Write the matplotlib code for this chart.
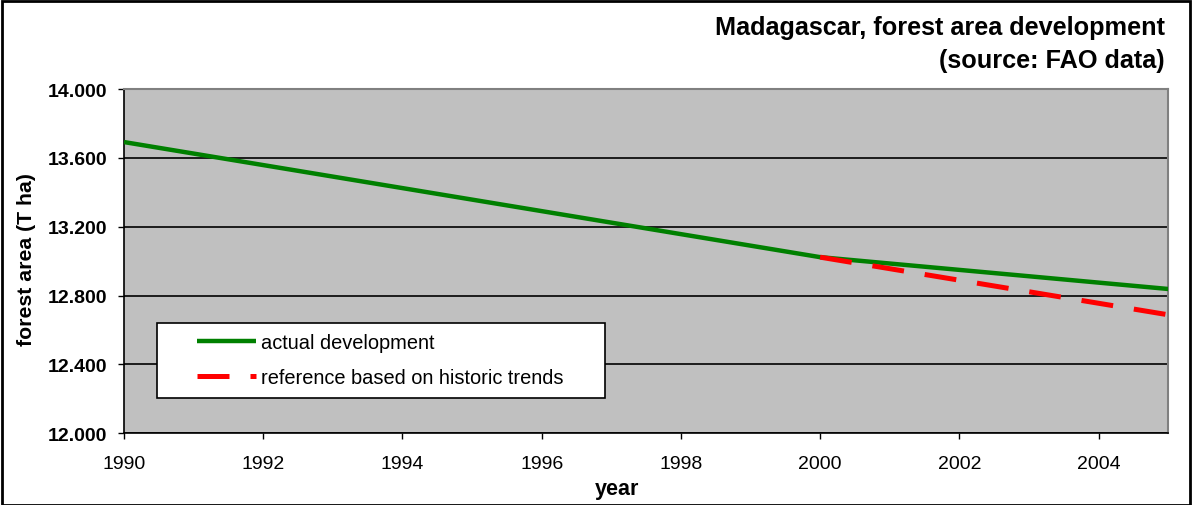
import matplotlib.pyplot as plt
from matplotlib.patches import Rectangle
from matplotlib.ticker import FuncFormatter

plt.rcParams['font.family'] = ['Liberation Sans', 'DejaVu Sans']

# FAO forest area, thousand ha
years_actual = [1990, 2000, 2005]
area_actual = [13692, 13023, 12838]

# reference: historic trend continued after 2000
years_ref = [2000, 2005]
area_ref = [13023, 12688]

y_ticks = [12000, 12400, 12800, 13200, 13600, 14000]
x_ticks = [1990, 1992, 1994, 1996, 1998, 2000, 2002, 2004]

fig = plt.figure(figsize=(11.92, 5.06), dpi=100)
ax = fig.add_axes([0.104, 0.142, 0.876, 0.680])

ax.set_facecolor('#c0c0c0')
ax.plot(years_actual, area_actual, color='#008000', lw=3.2,
        solid_capstyle='butt', label='actual development', zorder=3)
ax.plot(years_ref, area_ref, color='#ff0000', lw=3.6,
        dashes=(6.4, 4.2), dash_capstyle='butt',
        label='reference based on historic trends', zorder=4)

ax.set_xlim(1990, 2005)
ax.set_ylim(12000, 14000)
ax.set_xticks(x_ticks)
ax.set_yticks(y_ticks)
ax.yaxis.set_major_formatter(FuncFormatter(lambda v, p: f'{v:,.0f}'.replace(',', '.')))
ax.grid(axis='y', color='black', lw=1.2)
ax.set_axisbelow(True)

ax.tick_params(direction='out', length=4.5, width=1, colors='black')
ax.tick_params(axis='x', labelsize=14, pad=11)
ax.tick_params(axis='y', labelsize=14, pad=7.5)
for lbl in ax.get_yticklabels():
    lbl.set_fontweight('bold')

for side in ['top', 'right']:
    ax.spines[side].set_color('#808080')
    ax.spines[side].set_linewidth(1.5)
for side in ['left', 'bottom']:
    ax.spines[side].set_color('black')
    ax.spines[side].set_linewidth(1.2)

fig.text(0.518, 0.032, 'year', ha='center', va='center',
         fontsize=15.5, fontweight='bold')
fig.text(0.022, 0.487, 'forest area (T ha)', ha='center', va='center',
         rotation=90, fontsize=15.3, fontweight='bold')

# legend box drawn by hand (Excel style: wide left margin)
ax.add_patch(Rectangle((0.0316, 0.102), 0.429, 0.218, transform=ax.transAxes,
                       facecolor='white', edgecolor='black', lw=1.2, zorder=5))
leg = ax.legend(loc='upper left', bbox_to_anchor=(0.0699, 0.290), fontsize=14.4,
                frameon=False, handlelength=2.95, borderpad=0, labelspacing=0.8,
                handletextpad=0.25, borderaxespad=0)
leg.set_zorder(6)

fig.text(0.977, 0.945, 'Madagascar, forest area development', ha='right',
         va='center', fontsize=18.2, fontweight='bold')
fig.text(0.977, 0.880, '(source: FAO data)', ha='right', va='center',
         fontsize=18.2, fontweight='bold')

fig.patches.append(Rectangle((0.002, 0.0), 0.996, 0.996, transform=fig.transFigure,
                             fill=False, edgecolor='black', lw=2))

fig.savefig('out.png', dpi=100)
